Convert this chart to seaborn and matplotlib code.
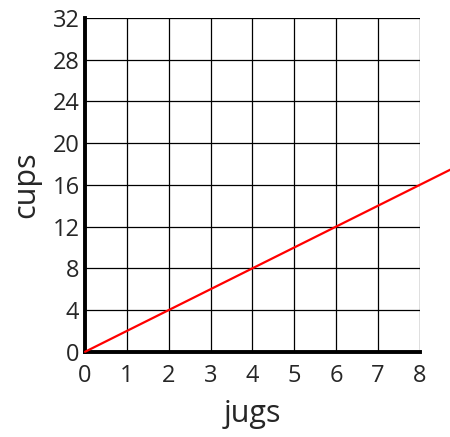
import matplotlib
matplotlib.use('Agg')
import matplotlib.pyplot as plt
import seaborn as sns
import pandas as pd

sns.set_style('white')
plt.rcParams['font.family'] = ['Open Sans', 'DejaVu Sans']

# data: cups = 2 * jugs, line runs a bit past the last grid column
jugs = [0, 8.75]
cups = [0, 17.5]
x_ticks = [0, 1, 2, 3, 4, 5, 6, 7, 8]
y_ticks = [0, 4, 8, 12, 16, 20, 24, 28, 32]

df = pd.DataFrame({'jugs': jugs, 'cups': cups})

fig = plt.figure(figsize=(4.5, 4.37), dpi=100)
ax = fig.add_axes([0.189, 0.195, 0.744, 0.764])

sns.lineplot(data=df, x='jugs', y='cups', color='red', linewidth=1.6, ax=ax, clip_on=False, zorder=5)

ax.set_xlim(0, 8)
ax.set_ylim(0, 32)
ax.set_xticks(x_ticks)
ax.set_yticks(y_ticks)
ax.grid(True, color='black', linewidth=0.9)
ax.set_axisbelow(True)
ax.tick_params(length=0, labelsize=17)
ax.tick_params(axis='x', pad=9)
ax.tick_params(axis='y', pad=4)

for side in ['top', 'right']:
    ax.spines[side].set_visible(False)
for side in ['left', 'bottom']:
    ax.spines[side].set_linewidth(2.8)
    ax.spines[side].set_color('black')

ax.set_xlabel('jugs', fontsize=22, labelpad=8)
ax.set_ylabel('cups', fontsize=22, labelpad=8)

fig.savefig('out.png', dpi=100)
